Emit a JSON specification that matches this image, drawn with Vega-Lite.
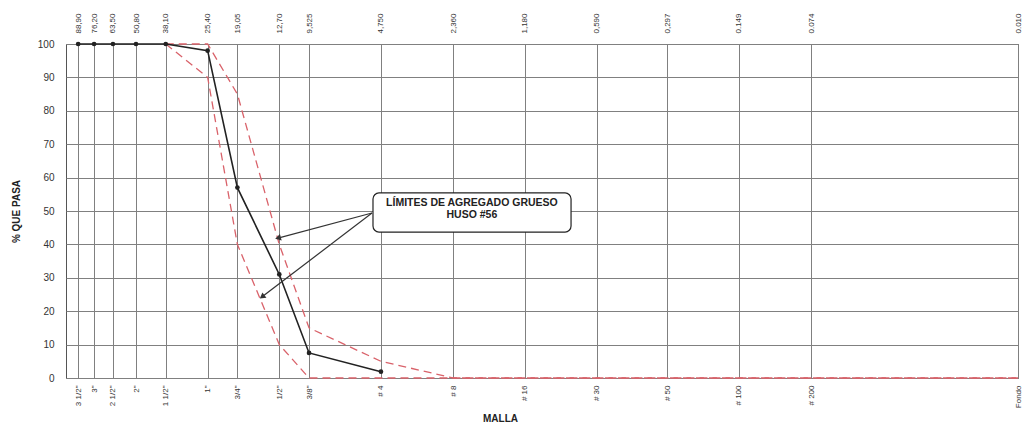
{
  "$schema": "https://vega.github.io/schema/vega-lite/v6.json",
  "autosize": {"type": "none"},
  "padding": {"left": 66, "top": 44, "right": 11, "bottom": 53},
  "width": 952,
  "height": 334,
  "background": "white",
  "config": {
    "font": "Liberation Sans",
    "view": {"stroke": "#555", "strokeWidth": 1},
    "axis": {"labelColor": "#333", "titleColor": "#222", "domain": false, "ticks": false}
  },
  "datasets": {
    "curva": [
      {"abertura": 88.9, "pasa": 100},
      {"abertura": 76.2, "pasa": 100},
      {"abertura": 63.5, "pasa": 100},
      {"abertura": 50.8, "pasa": 100},
      {"abertura": 38.1, "pasa": 100},
      {"abertura": 25.4, "pasa": 98},
      {"abertura": 19.05, "pasa": 57},
      {"abertura": 12.7, "pasa": 31},
      {"abertura": 9.525, "pasa": 7.5},
      {"abertura": 4.75, "pasa": 1.9}
    ],
    "limites": [
      {"abertura": 38.1, "pasa": 100, "limite": "Superior"},
      {"abertura": 25.4, "pasa": 100, "limite": "Superior"},
      {"abertura": 19.05, "pasa": 85, "limite": "Superior"},
      {"abertura": 12.7, "pasa": 40, "limite": "Superior"},
      {"abertura": 9.525, "pasa": 15, "limite": "Superior"},
      {"abertura": 4.75, "pasa": 5, "limite": "Superior"},
      {"abertura": 2.36, "pasa": 0, "limite": "Superior"},
      {"abertura": 1.18, "pasa": 0, "limite": "Superior"},
      {"abertura": 0.59, "pasa": 0, "limite": "Superior"},
      {"abertura": 0.297, "pasa": 0, "limite": "Superior"},
      {"abertura": 0.149, "pasa": 0, "limite": "Superior"},
      {"abertura": 0.074, "pasa": 0, "limite": "Superior"},
      {"abertura": 0.01, "pasa": 0, "limite": "Superior"},
      {"abertura": 38.1, "pasa": 100, "limite": "Inferior"},
      {"abertura": 25.4, "pasa": 90, "limite": "Inferior"},
      {"abertura": 19.05, "pasa": 40, "limite": "Inferior"},
      {"abertura": 12.7, "pasa": 10, "limite": "Inferior"},
      {"abertura": 9.525, "pasa": 0, "limite": "Inferior"},
      {"abertura": 4.75, "pasa": 0, "limite": "Inferior"},
      {"abertura": 2.36, "pasa": 0, "limite": "Inferior"},
      {"abertura": 1.18, "pasa": 0, "limite": "Inferior"},
      {"abertura": 0.59, "pasa": 0, "limite": "Inferior"},
      {"abertura": 0.297, "pasa": 0, "limite": "Inferior"},
      {"abertura": 0.149, "pasa": 0, "limite": "Inferior"},
      {"abertura": 0.074, "pasa": 0, "limite": "Inferior"},
      {"abertura": 0.01, "pasa": 0, "limite": "Inferior"}
    ],
    "caja": [
      {"x1": 5.13, "x2": 0.755, "y1": 55.4, "y2": 43.7}
    ],
    "textos": [
      {"x": 1.97, "y": 52.3, "texto": "LÍMITES DE AGREGADO GRUESO"},
      {"x": 1.97, "y": 48.8, "texto": "HUSO #56"}
    ],
    "flechas": [
      {"id": "a", "x1": 5.18, "y1": 49.4, "x2": 12.86, "y2": 41.9},
      {"id": "b", "x1": 5.18, "y1": 49.4, "x2": 15.0, "y2": 24.3}
    ]
  },
  "resolve": {"axis": {"x": "independent", "y": "independent"}},
  "layer": [
    {
      "data": {"name": "limites"},
      "mark": {"type": "line", "color": "#d9626a", "strokeWidth": 1.3, "strokeDash": [8, 5]},
      "encoding": {
        "x": {
          "field": "abertura", "type": "quantitative",
          "scale": {"type": "log", "domain": [0.01, 100], "reverse": true, "nice": false},
          "axis": {
            "orient": "bottom",
            "title": "MALLA",
            "titleFontSize": 10,
            "titleFontWeight": "bold",
            "titleX": 434,
            "titlePadding": 6,
            "values": [88.9, 76.2, 63.5, 50.8, 38.1, 25.4, 19.05, 12.7, 9.525, 4.75, 2.36, 1.18, 0.59, 0.297, 0.149, 0.074, 0.01],
            "labelExpr": "['3 1/2\"','3\"','2 1/2\"','2\"','1 1/2\"','1\"','3/4\"','1/2\"','3/8\"','# 4','# 8','# 16','# 30','# 50','# 100','# 200','Fondo'][indexof([88.9,76.2,63.5,50.8,38.1,25.4,19.05,12.7,9.525,4.75,2.36,1.18,0.59,0.297,0.149,0.074,0.01], datum.value)]",
            "labelAngle": -90,
            "labelFontSize": 8,
            "labelPadding": 7,
            "labelOverlap": false,
            "labelFlush": false,
            "grid": true,
            "gridColor": "#808080",
            "gridWidth": 1
          }
        },
        "y": {
          "field": "pasa", "type": "quantitative",
          "scale": {"domain": [0, 100], "nice": false},
          "axis": {
            "title": "% QUE PASA",
            "titleFontSize": 10,
            "titleFontWeight": "bold",
            "titlePadding": 16,
            "values": [0, 10, 20, 30, 40, 50, 60, 70, 80, 90, 100],
            "labelFontSize": 10,
            "labelPadding": 12,
            "labelOverlap": false,
            "grid": true,
            "gridColor": "#808080",
            "gridWidth": 1
          }
        },
        "detail": {"field": "limite"}
      }
    },
    {
      "data": {"name": "curva"},
      "mark": {"type": "line", "color": "#222", "strokeWidth": 1.6, "point": {"filled": true, "color": "#222", "size": 22}},
      "encoding": {
        "x": {
          "field": "abertura", "type": "quantitative",
          "scale": {"type": "log", "domain": [0.01, 100], "reverse": true, "nice": false},
          "axis": {
            "orient": "top",
            "title": null,
            "values": [88.9, 76.2, 63.5, 50.8, 38.1, 25.4, 19.05, 12.7, 9.525, 4.75, 2.36, 1.18, 0.59, 0.297, 0.149, 0.074, 0.01],
            "labelExpr": "['88,90','76,20','63,50','50,80','38,10','25,40','19,05','12,70','9,525','4,750','2,360','1,180','0,590','0,297','0.149','0.074','0.010'][indexof([88.9,76.2,63.5,50.8,38.1,25.4,19.05,12.7,9.525,4.75,2.36,1.18,0.59,0.297,0.149,0.074,0.01], datum.value)]",
            "labelAngle": -90,
            "labelFontSize": 8,
            "labelPadding": 11,
            "labelOverlap": false,
            "labelFlush": false,
            "grid": false
          }
        },
        "y": {"field": "pasa", "type": "quantitative", "scale": {"domain": [0, 100], "nice": false}, "axis": null}
      }
    },
    {
      "data": {"name": "flechas"},
      "mark": {"type": "rule", "color": "#333", "strokeWidth": 1.2},
      "encoding": {
        "x": {"field": "x1", "type": "quantitative", "scale": {"type": "log", "domain": [0.01, 100], "reverse": true, "nice": false}, "axis": null},
        "x2": {"field": "x2"},
        "y": {"field": "y1", "type": "quantitative", "scale": {"domain": [0, 100], "nice": false}, "axis": null},
        "y2": {"field": "y2"}
      }
    },
    {
      "data": {"name": "flechas"},
      "transform": [{"filter": "datum.id == 'a'"}],
      "mark": {"type": "point", "shape": "triangle-left", "filled": true, "color": "#333", "size": 45, "angle": 345, "opacity": 1},
      "encoding": {
        "x": {"field": "x2", "type": "quantitative", "scale": {"type": "log", "domain": [0.01, 100], "reverse": true, "nice": false}, "axis": null},
        "y": {"field": "y2", "type": "quantitative", "scale": {"domain": [0, 100], "nice": false}, "axis": null}
      }
    },
    {
      "data": {"name": "flechas"},
      "transform": [{"filter": "datum.id == 'b'"}],
      "mark": {"type": "point", "shape": "triangle-left", "filled": true, "color": "#333", "size": 45, "angle": 323, "opacity": 1},
      "encoding": {
        "x": {"field": "x2", "type": "quantitative", "scale": {"type": "log", "domain": [0.01, 100], "reverse": true, "nice": false}, "axis": null},
        "y": {"field": "y2", "type": "quantitative", "scale": {"domain": [0, 100], "nice": false}, "axis": null}
      }
    },
    {
      "data": {"name": "caja"},
      "mark": {"type": "rect", "fill": "white", "stroke": "#222", "strokeWidth": 1.2, "cornerRadius": 6},
      "encoding": {
        "x": {"field": "x1", "type": "quantitative", "scale": {"type": "log", "domain": [0.01, 100], "reverse": true, "nice": false}, "axis": null},
        "x2": {"field": "x2"},
        "y": {"field": "y1", "type": "quantitative", "scale": {"domain": [0, 100], "nice": false}, "axis": null},
        "y2": {"field": "y2"}
      }
    },
    {
      "data": {"name": "textos"},
      "mark": {"type": "text", "fontSize": 10.5, "fontWeight": "bold", "color": "#222", "align": "center", "baseline": "middle"},
      "encoding": {
        "x": {"field": "x", "type": "quantitative", "scale": {"type": "log", "domain": [0.01, 100], "reverse": true, "nice": false}, "axis": null},
        "y": {"field": "y", "type": "quantitative", "scale": {"domain": [0, 100], "nice": false}, "axis": null},
        "text": {"field": "texto"}
      }
    }
  ]
}
